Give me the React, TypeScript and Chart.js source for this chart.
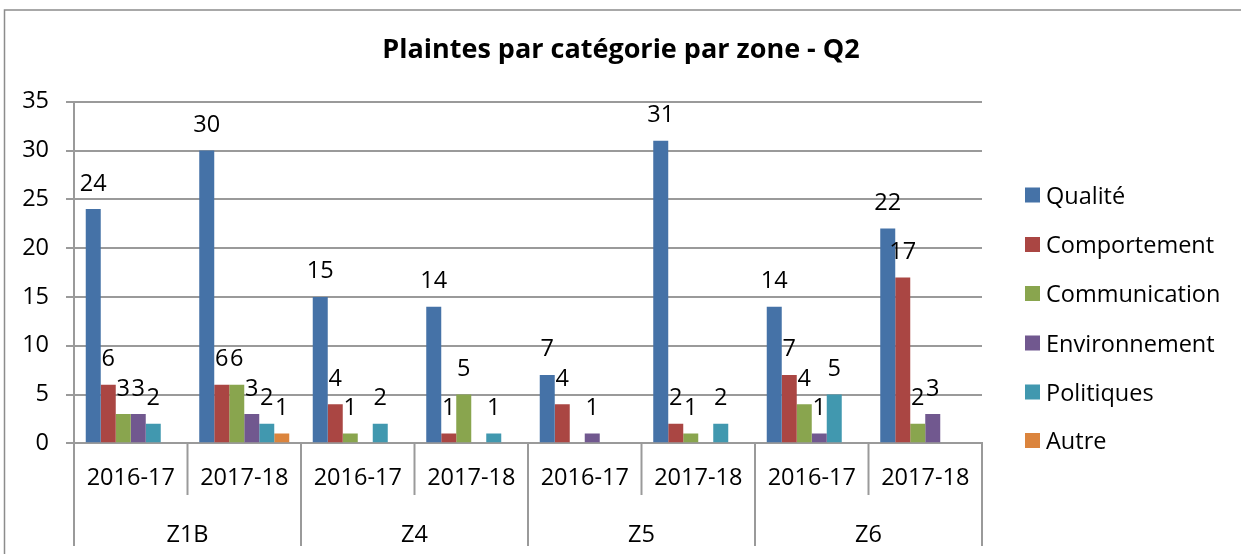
import React, { useEffect, useRef } from "react";
import { Chart, registerables } from "chart.js";

Chart.register(...registerables);

const categories = ["2016-17", "2017-18", "2016-17", "2017-18", "2016-17", "2017-18", "2016-17", "2017-18"];
const zones = ["Z1B", "Z4", "Z5", "Z6"];
const seriesNames = ["Qualité", "Comportement", "Communication", "Environnement", "Politiques", "Autre"];
const qualite = [24, 30, 15, 14, 7, 31, 14, 22];
const comportement = [6, 6, 4, 1, 4, 2, 7, 17];
const communication = [3, 6, 1, 5, 0, 1, 4, 2];
const environnement = [3, 3, 0, 0, 1, 0, 1, 3];
const politiques = [2, 2, 2, 1, 0, 2, 5, 0];
const autre = [0, 1, 0, 0, 0, 0, 0, 0];
const seriesColors = ["#4572A7", "#AA4643", "#89A54E", "#71588F", "#4198AF", "#DB843D"];
const titleText = "Plaintes par catégorie par zone - Q2";

const FONT = "'Open Sans', sans-serif";
const FS = 23.5;

const customPlugin = {
  id: "customDecor",
  afterDraw(chart: any) {
    const ctx = chart.ctx as CanvasRenderingContext2D;
    const ca = chart.chartArea;
    const xs = chart.scales.x;
    const H = chart.height;
    ctx.save();
    // outer border
    ctx.strokeStyle = "#8c8c8c";
    ctx.lineWidth = 1.5;
    ctx.beginPath();
    ctx.moveTo(4.5, H);
    ctx.lineTo(4.5, 10);
    ctx.lineTo(chart.width, 10);
    ctx.stroke();

    // title
    ctx.fillStyle = "#000";
    ctx.font = `bold 27px ${FONT}`;
    ctx.textAlign = "center";
    ctx.textBaseline = "middle";
    ctx.fillText(titleText, 621, 50);

    // data labels
    ctx.font = `${FS}px ${FONT}`;
    ctx.textAlign = "center";
    ctx.textBaseline = "alphabetic";
    chart.data.datasets.forEach((ds: any, di: number) => {
      const meta = chart.getDatasetMeta(di);
      meta.data.forEach((bar: any, i: number) => {
        const v = ds.data[i];
        if (!v) return;
        ctx.fillText(String(v), bar.x, bar.y - 18.5);
      });
    });

    // multi-level axis separators
    const n = categories.length;
    const w = (ca.right - ca.left) / n;
    ctx.strokeStyle = "#9a9a9a";
    ctx.lineWidth = 2;
    for (let i = 0; i <= n; i++) {
      const x = i === n ? xs.getPixelForValue(n - 1) + w / 2 : xs.getPixelForValue(i) - w / 2;
      ctx.beginPath();
      ctx.moveTo(x, ca.bottom);
      ctx.lineTo(x, i % 2 === 0 ? 546 : 495);
      ctx.stroke();
    }
    // zone labels
    ctx.fillStyle = "#000";
    ctx.font = `${FS}px ${FONT}`;
    ctx.textAlign = "center";
    ctx.textBaseline = "alphabetic";
    zones.forEach((z, zi) => {
      const x = (xs.getPixelForValue(zi * 2) + xs.getPixelForValue(zi * 2 + 1)) / 2;
      ctx.fillText(z, x, 541.5);
    });

    // legend
    const rowY = [195, 244.5, 293.5, 343, 392, 440.5];
    ctx.textAlign = "left";
    seriesNames.forEach((name, i) => {
      const y = rowY[i];
      ctx.fillStyle = seriesColors[i];
      ctx.fillRect(1025, y - 7.5, 15, 15);
      ctx.fillStyle = "#000";
      ctx.fillText(name, 1046, y + 8.5);
    });
    ctx.restore();
  },
};

export default function App() {
  const ref = useRef<HTMLCanvasElement>(null);
  useEffect(() => {
    if (!ref.current) return;
    const seriesData = [qualite, comportement, communication, environnement, politiques, autre];
    const chart = new Chart(ref.current, {
      type: "bar",
      data: {
        labels: categories,
        datasets: seriesNames.map((name, i) => ({
          label: name,
          data: seriesData[i],
          backgroundColor: seriesColors[i],
          borderWidth: 0,
          categoryPercentage: 0.793,
          barPercentage: 1.0,
        })),
      },
      options: {
        responsive: false,
        animation: false,
        layout: { padding: { top: 101.7, right: 259, left: 0, bottom: 0 } },
        plugins: {
          legend: { display: false },
          title: { display: false },
          tooltip: { enabled: false },
        },
        scales: {
          x: {
            offset: true,
            grid: { display: false, drawTicks: false },
            border: { display: true, color: "#9a9a9a", width: 2 },
            ticks: {
              color: "#000",
              font: { family: FONT, size: FS },
              padding: 21,
              maxRotation: 0,
              autoSkip: false,
            },
            afterFit: (scale: any) => {
              scale.height = 554 - 443.3;
            },
          },
          y: {
            min: 0,
            max: 35,
            ticks: {
              stepSize: 5,
              color: "#000",
              font: { family: FONT, size: FS },
              padding: 17,
            },
            grid: { color: "#9a9a9a", lineWidth: 2, tickLength: 8 },
            border: { display: true, color: "#9a9a9a", width: 2 },
            afterFit: (scale: any) => {
              scale.width = 74;
            },
          },
        },
      },
      plugins: [customPlugin],
    });
    return () => chart.destroy();
  }, []);
  return (
    <div style={{ position: "absolute", left: 0, top: 0, width: 1241, height: 554, background: "#fff" }}>
      <canvas ref={ref} width={1241} height={554} />
    </div>
  );
}
